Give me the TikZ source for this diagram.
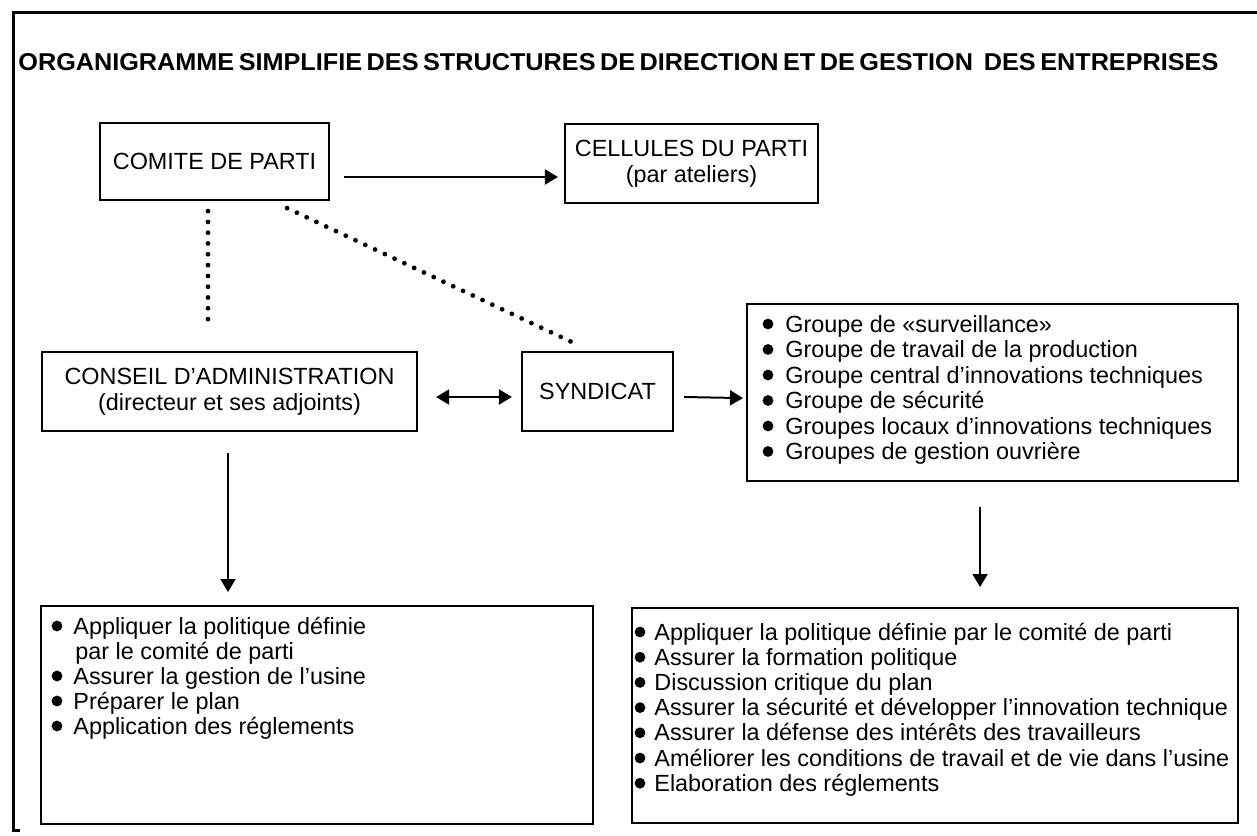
\documentclass[tikz,border=0pt]{standalone}
\usepackage{fontspec}
\usepackage{graphicx}
\setmainfont{Liberation Sans}
\usetikzlibrary{arrows.meta}
\begin{document}
\begin{tikzpicture}[x=0.5pt,y=-0.5pt,
  font=\fontsize{11.7}{13}\selectfont,
  box/.style={draw, line width=1.1pt, inner sep=0pt, align=center},
  arr/.style={line width=1pt, -{Triangle[length=6.5pt,width=7.5pt]}},
  darr/.style={line width=1pt, {Triangle[length=6.5pt,width=7.5pt]}-{Triangle[length=6.5pt,width=7.5pt]}},
  dots/.style={line width=2.4pt, line cap=round, dash pattern=on 0pt off 5.4pt},
  item/.style={anchor=base west, inner sep=0pt},
  frame/.style={line width=1.5pt}]
\useasboundingbox (0,0) rectangle (1257,835);
% outer frame
\draw[frame] (1257,12) -- (13,12) -- (13,830) -- (20,830);
% title
\node[anchor=west, inner sep=0pt] (title) at (18,62)
  {\resizebox{600pt}{8.5pt}{\bfseries\spaceskip=0.18em ORGANIGRAMME SIMPLIFIE DES STRUCTURES DE DIRECTION ET DE GESTION\hspace{0.25em} DES ENTREPRISES}};
% boxes
\node[box, minimum width=114.5pt, minimum height=38.5pt] (comite) at (214.5,161.5) {COMITE DE PARTI};
\node[box, minimum width=126.5pt, minimum height=39.5pt] (cellules) at (691.5,163.5) {CELLULES DU PARTI\\(par ateliers)};
\node[box, minimum width=187.5pt, minimum height=39.5pt] (conseil) at (229.5,391.5) {CONSEIL D’ADMINISTRATION\\(directeur et ses adjoints)};
\node[box, minimum width=75.5pt, minimum height=39.5pt] (syndicat) at (597.5,391.5) {SYNDICAT};
\node[box, minimum width=245.5pt, minimum height=88.5pt, anchor=north west] (groups) at (746,303) {};
\node[box, minimum width=276pt, minimum height=109pt, anchor=north west] (leftbot) at (40,605) {};
\node[box, minimum width=303pt, minimum height=107.5pt, anchor=north west] (rightbot) at (631,607) {};
% group list
\foreach \t [count=\i] in {Groupe de «surveillance»,Groupe de travail de la production,Groupe central d’innovations techniques,Groupe de sécurité,Groupes locaux d’innovations techniques,Groupes de gestion ouvrière}{
  \node[item] (g\i) at (785,{332+25.5*(\i-1)}) {\t};
  \fill ([xshift=-8.5pt,yshift=4pt]g\i.base west) circle (2.7pt);
}
% left bottom list
\node[item] (l1) at (73,634) {Appliquer la politique définie};
\node[item] (l1b) at (75,659) {par le comité de parti};
\node[item] (l2) at (73,684) {Assurer la gestion de l’usine};
\node[item] (l3) at (73,709) {Préparer le plan};
\node[item] (l4) at (73,734) {Application des réglements};
\foreach \n in {l1,l2,l3,l4}{
  \fill ([xshift=-8pt,yshift=4pt]\n.base west) circle (2.7pt);
}
% right bottom list
\foreach \t [count=\i] in {Appliquer la politique définie par le comité de parti,Assurer la formation politique,Discussion critique du plan,Assurer la sécurité et développer l’innovation technique,Assurer la défense des intérêts des travailleurs,Améliorer les conditions de travail et de vie dans l’usine,Elaboration des réglements}{
  \node[item] (r\i) at (654,{640+25.2*(\i-1)}) {\t};
  \fill ([xshift=-7pt,yshift=4pt]r\i.base west) circle (2.7pt);
}
% connectors
\draw[arr] ([xshift=7pt,yshift=-7.75pt]comite.east) -- ([xshift=-3pt,yshift=-6.75pt]cellules.west);
\draw[darr] ([xshift=9pt,yshift=-2.75pt]conseil.east) -- ([xshift=-4.5pt,yshift=-2.75pt]syndicat.west);
\draw[arr] ([xshift=5pt,yshift=-2.75pt]syndicat.east) -- ([xshift=-1.5pt,yshift=-2.75pt]groups.west);
\coordinate (c1) at ([xshift=-0.75pt,yshift=-10.5pt]conseil.south);
\draw[arr, shorten >=6.5pt] (c1) -- (c1 |- leftbot.north);
\coordinate (c2) at ([xshift=-6.25pt,yshift=-12.5pt]groups.south);
\draw[arr, shorten >=10pt] (c2) -- (c2 |- rightbot.north);
\coordinate (c3) at ([xshift=-3.25pt,yshift=-5pt]comite.south);
\draw[dots, shorten >=12pt] (c3) -- (c3 |- conseil.north);
\draw[dots] ([xshift=-21.5pt,yshift=-3.5pt]comite.south east) -- ([xshift=-8.75pt,yshift=2.5pt]syndicat.north);
\end{tikzpicture}
\end{document}
